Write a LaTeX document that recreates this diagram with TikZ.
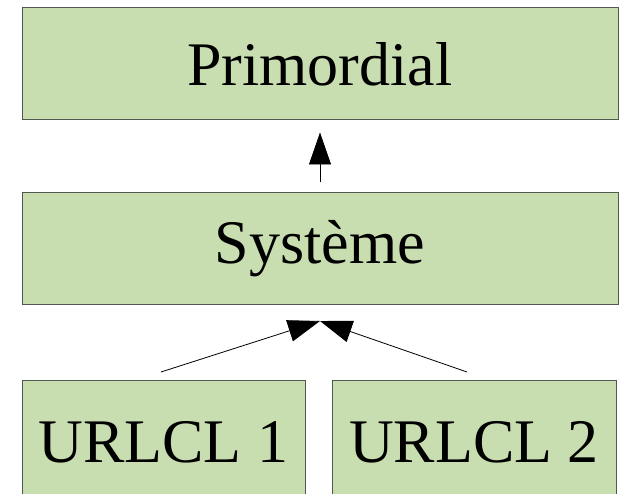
\documentclass[tikz,border=0pt]{standalone}
\usepackage{fontspec}
\setmainfont{Liberation Serif}
\usepackage{xcolor}
\usetikzlibrary{arrows.meta, positioning}

\definecolor{boxgreen}{RGB}{201,222,176}
\definecolor{boxedge}{RGB}{80,88,80}

\tikzset{
    level/.style={draw=boxedge, line width=1pt, fill=boxgreen,
        minimum height=112pt, inner sep=0pt,
        font=\fontsize{62}{70}\selectfont},
    uses/.style={-{Triangle[length=32pt, width=22pt]}, line width=0.8pt}
}

\begin{document}
\begin{tikzpicture}[x=1pt, y=-1pt]

    % Page frame, cut at the bottom
    \clip (0,0) rectangle (622,494);

    % Layers
    \node[level, minimum width=596pt] (prim) at (320,64) {Primordial};
    \node[level, minimum width=596pt] (sys) at (320,249) {Système};
    \node[level, minimum width=283pt, minimum height=122pt] (u1) at (163.5,442) {URLCL 1};
    \node[level, minimum width=284pt, minimum height=122pt] (u2) at (474,442) {URLCL 2};

    % Free ends of the connectors
    \coordinate (tip) at (320,321);
    \coordinate (s1) at (161,372);
    \coordinate (s2) at (467,372);

    % Dependencies
    \draw[uses, shorten <=10pt, shorten >=12pt] (sys) -- (prim);
    \draw[uses] (s1) -- (tip);
    \draw[uses] (s2) -- (tip);

\end{tikzpicture}
\end{document}
